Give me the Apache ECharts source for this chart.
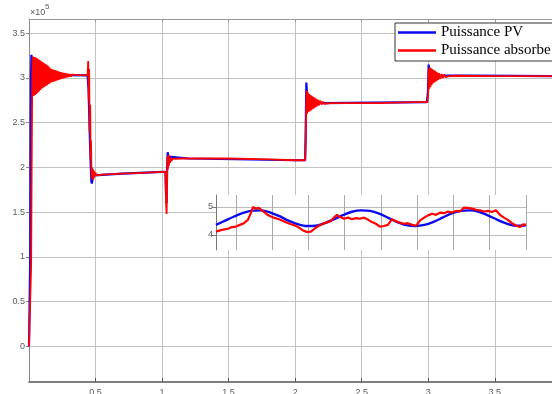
<!DOCTYPE html>
<html>
<head>
<meta charset="utf-8">
<script src="https://cdn.jsdelivr.net/npm/echarts@6/dist/echarts.min.js"></script>
<style>
html, body { margin: 0; padding: 0; background: #fff; }
#chart { width: 552px; height: 394px; }
</style>
</head>
<body>
<div id="chart"></div>
<script>
// Main traces: time (s) vs power (x 10^5 W)
const pvPower = [
  [0, 0], [0.006, 0.02], [0.009, 1.0], [0.012, 2.2], [0.015, 3.0], [0.018, 3.26],
  [0.022, 3.2], [0.03, 3.1], [0.05, 3.05], [0.1, 3.035], [0.44, 3.03],
  [0.448, 2.85], [0.455, 2.45], [0.462, 2.1], [0.468, 1.85], [0.472, 1.82],
  [0.478, 1.87], [0.49, 1.91], [0.5, 1.92], [0.7, 1.93], [1.0, 1.95], [1.025, 1.95],
  [1.03, 1.7], [1.034, 1.6], [1.038, 2.0], [1.042, 2.17], [1.048, 2.12], [1.06, 2.1],
  [1.2, 2.1], [2.0, 2.08], [2.075, 2.08], [2.08, 2.5], [2.084, 2.95], [2.088, 2.85],
  [2.095, 2.76], [2.11, 2.73], [2.2, 2.72], [2.99, 2.73], [2.998, 2.85], [3.003, 3.15],
  [3.008, 3.08], [3.015, 3.04], [3.05, 3.03], [4.0, 3.02]
];

const absorbedPower = [
  [0, 0], [0.012, 0.0], [0.016, 0.9], [0.02, 2.0], [0.024, 2.9], [0.027, 3.2],
  [0.030, 3.24], [0.035, 2.80], [0.040, 3.235], [0.045, 2.81], [0.050, 3.23], [0.055, 2.82],
  [0.060, 3.22], [0.065, 2.835], [0.070, 3.21], [0.075, 2.85], [0.080, 3.20], [0.085, 2.865],
  [0.090, 3.19], [0.095, 2.88], [0.100, 3.18], [0.105, 2.89], [0.110, 3.17], [0.115, 2.90],
  [0.120, 3.16], [0.125, 2.91], [0.130, 3.15], [0.135, 2.92], [0.140, 3.14], [0.145, 2.93],
  [0.150, 3.125], [0.155, 2.94], [0.160, 3.11], [0.165, 2.95], [0.170, 3.10], [0.175, 2.955],
  [0.180, 3.095], [0.185, 2.96], [0.190, 3.09], [0.195, 2.965], [0.200, 3.085], [0.205, 2.97],
  [0.210, 3.08], [0.215, 2.975], [0.220, 3.075], [0.225, 2.98], [0.230, 3.07], [0.235, 2.985],
  [0.240, 3.065], [0.245, 2.99], [0.250, 3.06], [0.255, 2.995], [0.260, 3.057], [0.265, 3.0],
  [0.270, 3.054], [0.275, 3.005], [0.280, 3.051], [0.285, 3.008], [0.290, 3.048], [0.295, 3.011],
  [0.300, 3.045], [0.305, 3.014], [0.310, 3.042], [0.315, 3.017], [0.320, 3.04], [0.325, 3.02],
  [0.330, 3.038], [0.335, 3.022], [0.340, 3.035], [0.35, 3.03], [0.44, 3.03],
  [0.445, 3.19], [0.449, 2.75], [0.452, 3.1], [0.456, 2.4], [0.46, 2.7], [0.463, 2.1],
  [0.466, 2.3], [0.47, 1.88], [0.474, 2.0], [0.478, 1.86], [0.482, 1.98], [0.486, 1.88],
  [0.49, 1.96], [0.495, 1.9], [0.5, 1.94], [0.51, 1.91], [0.52, 1.93], [0.55, 1.92],
  [0.7, 1.93], [0.85, 1.94], [1.0, 1.95], [1.025, 1.95],
  [1.03, 1.6], [1.034, 1.48], [1.037, 1.75], [1.04, 2.12], [1.044, 1.98], [1.048, 2.14],
  [1.052, 2.02], [1.056, 2.12], [1.06, 2.05], [1.065, 2.11], [1.07, 2.07], [1.08, 2.1],
  [1.09, 2.08], [1.1, 2.095], [1.15, 2.1], [1.5, 2.1], [1.8, 2.09], [2.0, 2.08], [2.075, 2.08],
  [2.08, 2.3], [2.083, 2.65], [2.086, 2.86], [2.09, 2.6], [2.095, 2.84], [2.1, 2.62],
  [2.105, 2.82], [2.11, 2.63], [2.115, 2.81], [2.12, 2.64], [2.125, 2.8], [2.13, 2.65],
  [2.135, 2.79], [2.14, 2.66], [2.145, 2.78], [2.15, 2.67], [2.155, 2.77], [2.16, 2.68],
  [2.165, 2.76], [2.17, 2.69], [2.175, 2.755], [2.18, 2.695], [2.19, 2.745], [2.2, 2.705],
  [2.21, 2.735], [2.22, 2.71], [2.23, 2.73], [2.24, 2.715], [2.26, 2.72], [2.6, 2.72],
  [2.9, 2.73], [2.995, 2.73],
  [3.0, 2.85], [3.004, 3.1], [3.008, 2.88], [3.012, 3.12], [3.016, 2.9], [3.02, 3.11],
  [3.025, 2.92], [3.03, 3.1], [3.035, 2.94], [3.04, 3.09], [3.045, 2.95], [3.05, 3.08],
  [3.055, 2.96], [3.06, 3.07], [3.065, 2.97], [3.07, 3.06], [3.075, 2.98], [3.08, 3.055],
  [3.09, 2.99], [3.1, 3.045], [3.11, 3.0], [3.12, 3.04], [3.13, 3.01], [3.14, 3.03],
  [3.16, 3.02], [3.2, 3.025], [3.5, 3.02], [4.0, 3.02]
];

// Detail window (inset)
const zoomPv = [
  [-0.55, 4.36], [-0.30, 4.51], [-0.05, 4.66], [0.20, 4.79], [0.45, 4.87], [0.70, 4.88],
  [0.95, 4.80], [1.20, 4.67], [1.45, 4.51], [1.70, 4.39], [1.95, 4.32], [2.20, 4.33],
  [2.45, 4.42], [2.70, 4.56], [2.95, 4.71], [3.20, 4.83], [3.45, 4.88], [3.70, 4.86],
  [3.95, 4.76], [4.20, 4.61], [4.45, 4.46], [4.70, 4.35], [4.95, 4.32], [5.20, 4.36],
  [5.45, 4.47], [5.70, 4.62], [5.95, 4.77], [6.20, 4.86], [6.45, 4.88], [6.70, 4.83],
  [6.95, 4.70], [7.20, 4.55], [7.45, 4.41], [7.70, 4.33], [7.95, 4.34], [8.00, 4.36]
];

const zoomAbsorbed = [
  [-0.55, 4.12], [-0.39, 4.18], [-0.22, 4.22], [-0.11, 4.28], [0, 4.30], [0.11, 4.36],
  [0.22, 4.42], [0.33, 4.54], [0.41, 4.78], [0.47, 5.00], [0.55, 4.94], [0.63, 4.97],
  [0.72, 4.88], [0.80, 4.80], [0.88, 4.71], [0.97, 4.66], [1.08, 4.60], [1.19, 4.56],
  [1.30, 4.50], [1.41, 4.44], [1.52, 4.38], [1.63, 4.34], [1.74, 4.26], [1.85, 4.16],
  [1.96, 4.11], [2.07, 4.12], [2.18, 4.24], [2.29, 4.33], [2.40, 4.40], [2.51, 4.45],
  [2.62, 4.50], [2.70, 4.62], [2.79, 4.72], [2.87, 4.64], [2.98, 4.58], [3.09, 4.62],
  [3.20, 4.56], [3.31, 4.60], [3.42, 4.58], [3.53, 4.62], [3.64, 4.55], [3.75, 4.46],
  [3.86, 4.40], [3.97, 4.30], [4.08, 4.32], [4.19, 4.36], [4.30, 4.56], [4.41, 4.50],
  [4.52, 4.44], [4.63, 4.40], [4.74, 4.42], [4.86, 4.36], [4.97, 4.33], [5.08, 4.52],
  [5.19, 4.62], [5.30, 4.70], [5.41, 4.76], [5.52, 4.72], [5.63, 4.80], [5.74, 4.78],
  [5.85, 4.84], [5.96, 4.80], [6.07, 4.86], [6.18, 4.84], [6.29, 4.98], [6.40, 4.97],
  [6.51, 4.94], [6.62, 4.90], [6.73, 4.88], [6.84, 4.84], [6.95, 4.86], [7.06, 4.82],
  [7.17, 4.88], [7.28, 4.72], [7.39, 4.62], [7.50, 4.54], [7.61, 4.42], [7.72, 4.34],
  [7.83, 4.28], [7.92, 4.38], [8.00, 4.36]
];

const seriesNames = ['Puissance PV', 'Puissance absorbe'];
const mainXRange = [0, 3.93];
const mainYRange = [-0.4, 3.66];
const zoomXRange = [-0.55, 8];
const zoomYRange = [3.46, 5.43];

const BLUE = '#0a0af0';
const RED = '#ff0000';
const GRID = '#c2c2c2';
const LABEL = '#5a5a5a';
const labelFont = { fontFamily: 'Liberation Sans', fontSize: 9, color: LABEL };

const chart = echarts.init(document.getElementById('chart'), null, { renderer: 'canvas' });

chart.setOption({
  animation: false,
  backgroundColor: '#fff',
  graphic: [
    { type: 'text', left: 30, top: 8, z: 30,
      style: { text: '\u00d710', fontFamily: 'Liberation Sans', fontSize: 9, fill: LABEL } },
    { type: 'text', left: 45, top: 3, z: 30,
      style: { text: '5', fontFamily: 'Liberation Sans', fontSize: 8, fill: LABEL } }
  ],
  legend: {
    data: seriesNames,
    orient: 'vertical',
    left: 395, top: 23,
    icon: 'rect',
    itemWidth: 38, itemHeight: 2.5,
    itemGap: 3,
    padding: [2, 14, 3, 3],
    backgroundColor: '#fff',
    borderColor: '#333',
    borderWidth: 1,
    z: 20,
    textStyle: { fontFamily: 'Liberation Serif', fontSize: 15, color: '#000', lineHeight: 15 }
  },
  grid: [
    { left: 29, top: 19, right: 0, bottom: 12, containLabel: false, outerBoundsMode: 'none', z: 1 },
    { left: 216, top: 195, right: 26, bottom: 144, outerBoundsMode: 'none',
      show: true, backgroundColor: '#fff', borderWidth: 0, z: 4 }
  ],
  xAxis: [
    {
      gridIndex: 0, type: 'value', min: mainXRange[0], max: mainXRange[1], interval: 0.5,
      axisLine: { show: true, onZero: false, lineStyle: { color: '#555', width: 1.5 } },
      axisTick: { show: true, inside: true, length: 4, lineStyle: { color: '#555' } },
      axisLabel: Object.assign({ margin: 6, showMinLabel: false, showMaxLabel: false }, labelFont),
      splitLine: { show: true, showMaxLine: false, lineStyle: { color: GRID, width: 1 } },
      z: 0
    },
    {
      gridIndex: 0, type: 'value', position: 'top', min: mainXRange[0], max: mainXRange[1], interval: 0.5,
      axisLine: { show: true, onZero: false, lineStyle: { color: '#999', width: 1 } },
      axisTick: { show: true, inside: true, length: 3, lineStyle: { color: '#999' } },
      axisLabel: { show: false },
      splitLine: { show: false },
      z: 0
    },
    {
      gridIndex: 1, type: 'value', min: zoomXRange[0], max: zoomXRange[1], splitNumber: 8,
      axisLine: { show: false },
      axisTick: { show: false },
      axisLabel: { show: false },
      splitLine: { show: true, showMinLine: false, lineStyle: { color: '#aaa', width: 1 } },
      z: 5
    }
  ],
  yAxis: [
    {
      gridIndex: 0, type: 'value', min: mainYRange[0], max: mainYRange[1], splitNumber: 8,
      axisLine: { show: true, onZero: false, lineStyle: { color: '#888', width: 1 } },
      axisTick: { show: true, inside: false, length: 3, lineStyle: { color: '#888' } },
      axisLabel: Object.assign({ margin: 4, showMinLabel: false, showMaxLabel: false }, labelFont),
      splitLine: { show: true, showMinLine: false, showMaxLine: false, lineStyle: { color: GRID, width: 1 } },
      z: 0
    },
    {
      gridIndex: 1, type: 'value', min: zoomYRange[0], max: zoomYRange[1], splitNumber: 2,
      axisLine: { show: true, onZero: false, lineStyle: { color: '#777', width: 1 } },
      axisTick: { show: true, inside: false, length: 4, lineStyle: { color: '#777' } },
      axisLabel: Object.assign({ margin: 3, showMinLabel: false, showMaxLabel: false }, labelFont),
      splitLine: { show: true, showMinLine: false, showMaxLine: false, lineStyle: { color: '#bbb', width: 1 } },
      z: 5
    }
  ],
  series: [
    {
      name: seriesNames[0], type: 'line', xAxisIndex: 0, yAxisIndex: 0,
      data: pvPower, symbol: 'none', showSymbol: false,
      color: BLUE, lineStyle: { color: BLUE, width: 2.2 }, z: 2
    },
    {
      name: seriesNames[1], type: 'line', xAxisIndex: 0, yAxisIndex: 0,
      data: absorbedPower, symbol: 'none', showSymbol: false,
      color: RED, lineStyle: { color: RED, width: 1.8 }, z: 3
    },
    {
      name: 'PV detail', type: 'line', xAxisIndex: 2, yAxisIndex: 1,
      data: zoomPv, symbol: 'none', showSymbol: false, smooth: 0.3,
      color: BLUE, lineStyle: { color: BLUE, width: 2.4 }, z: 6
    },
    {
      name: 'Absorbed detail', type: 'line', xAxisIndex: 2, yAxisIndex: 1,
      data: zoomAbsorbed, symbol: 'none', showSymbol: false,
      color: RED, lineStyle: { color: RED, width: 2.2 }, z: 7
    }
  ]
});
</script>
</body>
</html>
